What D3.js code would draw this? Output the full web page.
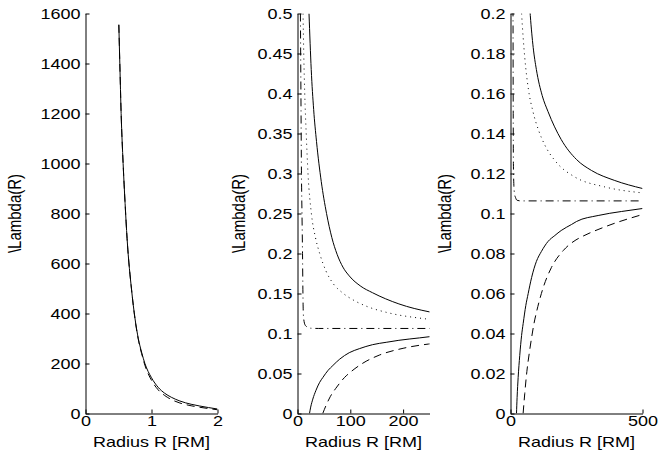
<!DOCTYPE html>
<html>
<head>
<meta charset="utf-8">
<script src="https://cdn.jsdelivr.net/npm/d3@7"></script>
<style>
  body { margin: 0; background: #fff; }
  svg { display: block; font-family: "Liberation Sans", Arial, sans-serif; }
</style>
</head>
<body>
<svg id="chart" width="659" height="459"></svg>
<script>
// panel 1, small radii (all curves nearly coincide, dashed sits a bit lower)
const smallSolid = [[0.505, 1555], [0.52, 1400], [0.54, 1200], [0.57, 1000], [0.6, 840], [0.63, 700],
  [0.7, 490], [0.75, 380], [0.8, 300], [0.85, 245], [0.9, 200], [1.0, 143], [1.1, 105], [1.2, 81],
  [1.3, 65], [1.43, 50], [1.6, 37], [1.73, 30], [2.0, 18]];
const smallDashed = [[0.505, 1555], [0.52, 1400], [0.54, 1200], [0.57, 1000], [0.6, 840], [0.63, 700],
  [0.7, 490], [0.75, 378], [0.8, 296], [0.85, 240], [0.9, 193], [1.0, 133], [1.1, 95], [1.2, 72],
  [1.3, 56], [1.43, 42], [1.6, 31], [1.73, 25], [2.0, 15]];

// panels 2 and 3 show the same five curves at large radii
const upperSolid = [[21.8, 0.5], [26, 0.43], [30.6, 0.38], [36, 0.34], [45, 0.29], [55, 0.25], [65, 0.22],
  [75, 0.199], [86, 0.183], [98, 0.172], [120, 0.159], [142, 0.151], [192, 0.137], [250, 0.127],
  [307, 0.1215], [395, 0.1165], [500, 0.1125]];
const dotted = [[10.5, 0.5], [12, 0.445], [13.7, 0.4], [16.5, 0.35], [19.9, 0.3], [26.3, 0.25], [34, 0.22],
  [42, 0.2], [54, 0.178], [68, 0.162], [85, 0.151], [108, 0.141], [129, 0.1345], [168, 0.1265],
  [179, 0.1248], [243, 0.1183], [357, 0.1133], [500, 0.1103]];
const dashDot = [[5.5, 0.5], [6.5, 0.4], [7.5, 0.3], [8.5, 0.25], [9.5, 0.2], [10.3, 0.15], [11, 0.125],
  [12.5, 0.115], [15, 0.11], [19, 0.108], [25, 0.1066], [40, 0.1063], [500, 0.1063]];
const lowerSolid = [[22.7, 0], [25, 0.008], [29, 0.018], [35, 0.029], [42, 0.039], [48, 0.045], [58, 0.054],
  [67, 0.06], [80, 0.068], [98, 0.076], [117, 0.081], [142, 0.086], [168, 0.089], [192, 0.0915],
  [231, 0.0945], [250, 0.096], [332, 0.099], [420, 0.101], [500, 0.1025]];
const lowerDashed = [[47.8, 0], [54, 0.01], [62, 0.021], [72, 0.031], [80, 0.038], [89, 0.045], [99, 0.051],
  [117, 0.06], [124, 0.063], [155, 0.073], [200, 0.0815], [248, 0.0868], [269, 0.0883],
  [357, 0.0933], [500, 0.0995]];

// tick values
const xTicks1 = [0, 1, 2];
const yTicks1 = [0, 200, 400, 600, 800, 1000, 1200, 1400, 1600];
const xTicks2 = [0, 100, 200];
const yTicks2 = [0, 0.05, 0.1, 0.15, 0.2, 0.25, 0.3, 0.35, 0.4, 0.45, 0.5];
const xTicks3 = [0, 500];
const yTicks3 = [0, 0.02, 0.04, 0.06, 0.08, 0.1, 0.12, 0.14, 0.16, 0.18, 0.2];

const dashes = { solid: null, dashed: "8,5", dotted: "1,4", dashdot: "8,4,1,4" };

const largeCurves = [
  { pts: upperSolid, style: "solid" },
  { pts: dotted, style: "dotted" },
  { pts: dashDot, style: "dashdot" },
  { pts: lowerSolid, style: "solid" },
  { pts: lowerDashed, style: "dashed" },
];

const panels = [
  { left: 85.5, xDomain: [0, 2], yDomain: [0, 1600], xTicks: xTicks1, yTicks: yTicks1, labelX: 20.5,
    curves: [{ pts: smallDashed, style: "dashed" }, { pts: smallSolid, style: "solid" }] },
  { left: 297.5, xDomain: [0, 250], yDomain: [0, 0.5], xTicks: xTicks2, yTicks: yTicks2, labelX: 244.5,
    curves: largeCurves },
  { left: 510.5, xDomain: [0, 500], yDomain: [0, 0.2], xTicks: xTicks3, yTicks: yTicks3, labelX: 451,
    curves: largeCurves },
];

const plotW = 132;
const plotTop = 13.5;
const plotBottom = 413.5;
const stretch = 1.2; // the original figure is a bit wider than tall

const svg = d3.select("#chart");

panels.forEach((p, i) => drawPanel(p, i));

function drawPanel(p, i) {
  const x = d3.scaleLinear().domain(p.xDomain).range([p.left, p.left + plotW]);
  const y = d3.scaleLinear().domain(p.yDomain).range([plotBottom, plotTop]);
  const g = svg.append("g");

  g.append("clipPath")
    .attr("id", "clip" + i)
    .append("rect")
    .attr("x", p.left)
    .attr("y", plotTop)
    .attr("width", plotW)
    .attr("height", plotBottom - plotTop);

  const line = d3.line()
    .x((d) => x(d[0]))
    .y((d) => y(d[1]))
    .curve(d3.curveMonotoneX);

  g.append("g")
    .attr("clip-path", `url(#clip${i})`)
    .selectAll("path")
    .data(p.curves)
    .join("path")
    .attr("d", (d) => line(d.pts))
    .attr("fill", "none")
    .attr("stroke", "#000")
    .attr("stroke-width", 1)
    .attr("stroke-dasharray", (d) => dashes[d.style]);

  const fmt = (d) => String(+d.toFixed(3));

  const xAxis = d3.axisBottom(x)
    .tickValues(p.xTicks)
    .tickFormat(fmt)
    .tickSizeInner(-4)
    .tickSizeOuter(0)
    .tickPadding(2);
  const yAxis = d3.axisLeft(y)
    .tickValues(p.yTicks)
    .tickFormat(fmt)
    .tickSizeInner(-4)
    .tickSizeOuter(0)
    .tickPadding(5);

  const gx = g.append("g").attr("transform", `translate(0,${plotBottom})`).call(xAxis);
  const gy = g.append("g").attr("transform", `translate(${p.left},0)`).call(yAxis);

  [gx, gy].forEach((a) => {
    a.style("font-size", "15px").style("font-family", '"Liberation Sans", Arial, sans-serif');
    a.selectAll("text").attr("fill", "#000").each(stretchText);
    a.selectAll("line, path").attr("stroke", "#000");
  });

  g.append("text")
    .attr("x", p.left + plotW / 2)
    .attr("y", 447)
    .attr("text-anchor", "middle")
    .style("font-size", "15px")
    .text("Radius R [RM]")
    .each(stretchText);

  g.append("text")
    .attr("transform", `translate(${p.labelX},${(plotTop + plotBottom) / 2}) scale(${stretch},1) rotate(-90)`)
    .attr("text-anchor", "middle")
    .style("font-size", "15px")
    .text("\\Lambda(R)");
}

function stretchText() {
  const w = this.getComputedTextLength();
  d3.select(this).attr("textLength", w * stretch).attr("lengthAdjust", "spacingAndGlyphs");
}
</script>
</body>
</html>
